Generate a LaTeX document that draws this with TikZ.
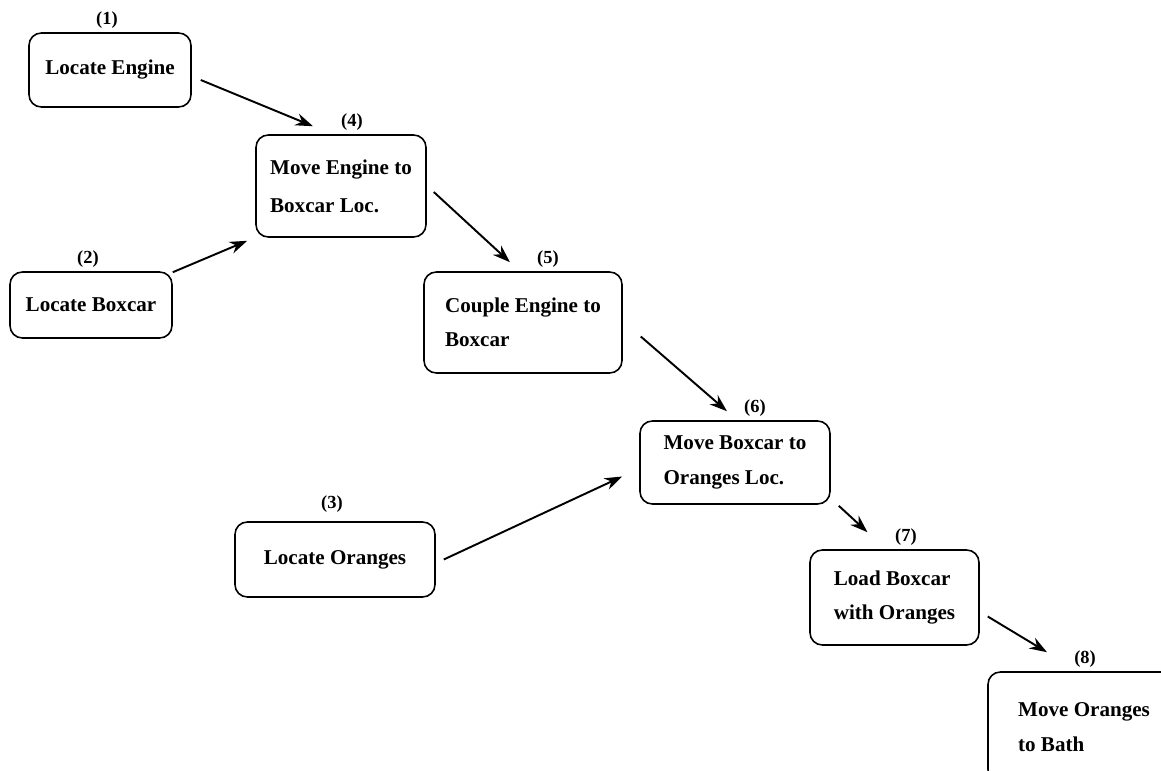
\documentclass[tikz,border=0pt]{standalone}
\usepackage{fontspec}
\setmainfont{Liberation Serif}
\usetikzlibrary{positioning,arrows.meta}

\begin{document}
\begin{tikzpicture}[x=0.02cm, y=-0.02cm,
    task/.style={draw, line width=0.9pt, rounded corners=7pt, align=left,
      inner sep=0pt, font=\bfseries\fontsize{12}{19.5}\selectfont},
    num/.style={font=\bfseries\fontsize{10.5}{12}\selectfont, inner sep=2pt},
    arr/.style={line width=1.1pt, -{Stealth[length=10pt,width=7pt]}}]
          \useasboundingbox (0,0) rectangle (1161,771);
          \clip (0,0) rectangle (1161,771);

          \node[task, minimum width=3.24cm, minimum height=1.48cm] (b1) at (110,70) {Locate Engine};
          \node[task, minimum width=3.24cm, minimum height=1.32cm] (b2) at (91,305) {Locate Boxcar};
          \node[task, minimum width=4.00cm, minimum height=1.50cm] (b3) at (335,559.5) {Locate Oranges};
          \node[task, minimum width=3.40cm, minimum height=2.04cm] (b4) at (341,186) {Move Engine to\\[2pt]Boxcar Loc.};
          \node[task, minimum width=3.96cm, minimum height=2.02cm] (b5) at (523,322.5) {Couple Engine to\\Boxcar};
          \node[task, minimum width=3.80cm, minimum height=1.66cm] (b6) at (735,462.5) {Move Boxcar to\\Oranges Loc.};
          \node[task, minimum width=3.38cm, minimum height=1.90cm] (b7) at (894.5,597.5) {Load Boxcar\\with Oranges};
          \node[task, minimum width=3.84cm, minimum height=2.20cm] (b8) at (1084,727) {Move Oranges\\to Bath};

          \node[num, above=0pt of b1.north, xshift=-0.06cm] (n1) {(1)};
          \node[num, above=0pt of b2.north, xshift=-0.06cm] (n2) {(2)};
          \node[num, above=0.1cm of b3.north, xshift=-0.06cm] (n3) {(3)};
          \node[num, above=0pt of b4.north, xshift=0.22cm] (n4) {(4)};
          \node[num, above=0pt of b5.north, xshift=0.50cm] (n5) {(5)};
          \node[num, above=0pt of b6.north, xshift=0.40cm] (n6) {(6)};
          \node[num, above=0pt of b7.north, xshift=0.23cm] (n7) {(7)};
          \node[num, above=0pt of b8.north, xshift=0.02cm] (n8) {(8)};

          \draw[arr] ([shift={(9,10)}]b1.east) -- ([shift={(-28,-8)}]b4.north);
          \draw[arr] ([shift={(0,1)}]b2.north east) -- ([shift={(-8,3)}]b4.south west);
          \draw[arr] ([shift={(7,6)}]b4.east) -- ([shift={(-13,-9)}]b5.north);
          \draw[arr] ([shift={(18,14)}]b5.east) -- ([shift={(-8,-9)}]b6.north);
          \draw[arr] ([shift={(8,0)}]b3.east) -- ([shift={(-17,14)}]b6.west);
          \draw[arr] ([shift={(8,1)}]b6.south east) -- ([shift={(-27,-17)}]b7.north);
          \draw[arr] ([shift={(8,19)}]b7.east) -- ([shift={(-37,-19)}]b8.north);
        \end{tikzpicture}
\end{document}
